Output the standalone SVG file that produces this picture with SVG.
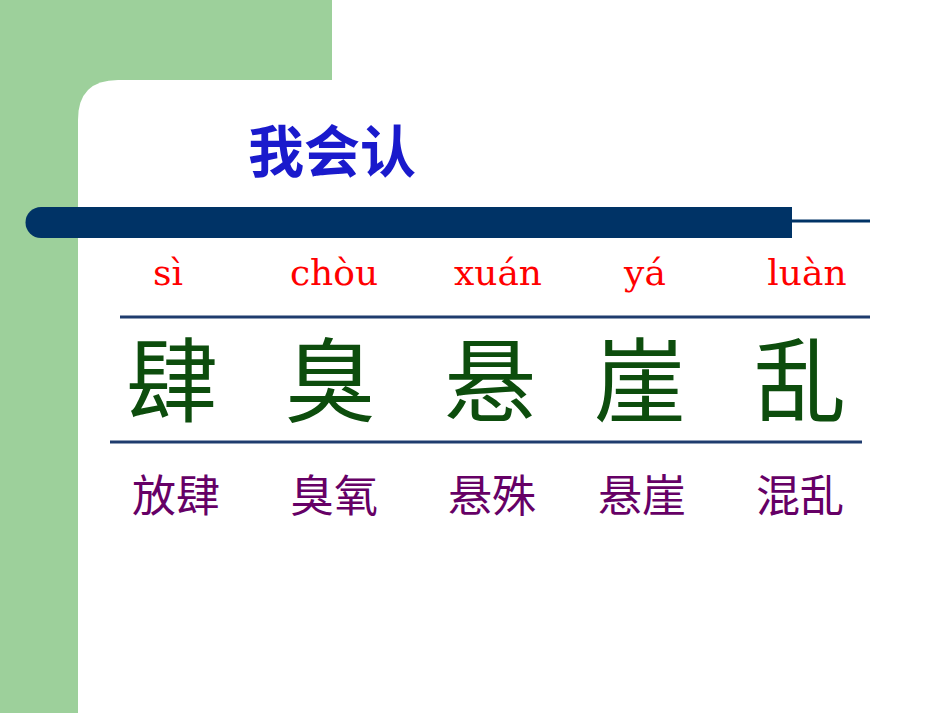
<svg xmlns="http://www.w3.org/2000/svg" width="950" height="713" viewBox="0 0 950 713">
<style>
.py{font-family:"DejaVu Serif",serif;font-size:36px;fill:#ff0000;text-anchor:middle}
.big{font-family:"Noto Sans CJK SC",sans-serif;font-size:92px;fill:#0d4d0d;text-anchor:middle}
.w{font-family:"Noto Sans CJK SC",sans-serif;font-size:44px;fill:#660066;text-anchor:middle}
</style>
<rect width="950" height="713" fill="#ffffff"/>
<rect x="0" y="0" width="78" height="713" fill="#9dd09b"/>
<rect x="0" y="0" width="332" height="130" fill="#9dd09b"/>
<path d="M78 713 V120 Q78 80 118 80 H332 V713 Z" fill="#ffffff"/>
<rect x="300" y="80" width="650" height="633" fill="#ffffff"/>
<text x="248" y="172" font-family="Noto Sans CJK SC,sans-serif" font-weight="bold" font-size="56" fill="#1a1acc">我会认</text>
<path d="M41 207 H792 V238 H41 A15.5 15.5 0 0 1 41 207 Z" fill="#003366"/>
<line x1="790" y1="221" x2="870" y2="221" stroke="#003366" stroke-width="3"/>
<g id="connectors">
<line x1="120" y1="317" x2="870" y2="317" stroke="#1f3c6e" stroke-width="3"/>
<line x1="110" y1="442" x2="862" y2="442" stroke="#1f3c6e" stroke-width="3"/>
</g>
<g id="n1"><text class="py" x="168" y="285">sì</text><text class="big" x="172" y="415">肆</text><text class="w" x="176" y="512">放肆</text></g>
<g id="n2"><text class="py" x="334" y="285">chòu</text><text class="big" x="330" y="415">臭</text><text class="w" x="334" y="512">臭氧</text></g>
<g id="n3"><text class="py" x="498" y="285">xuán</text><text class="big" x="490" y="415">悬</text><text class="w" x="492" y="512">悬殊</text></g>
<g id="n4"><text class="py" x="645" y="285">yá</text><text class="big" x="640" y="415">崖</text><text class="w" x="642" y="512">悬崖</text></g>
<g id="n5"><text class="py" x="807" y="285">luàn</text><text class="big" x="800" y="415">乱</text><text class="w" x="800" y="512">混乱</text></g>
</svg>
